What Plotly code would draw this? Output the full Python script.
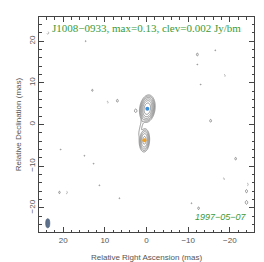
import numpy as np
import plotly.graph_objects as go

# ---- data ----
source_name = "J1008−0933"
max_flux = 0.13
clev = 0.002
obs_date = "1997−05−07"

# model components (mas, Jy/bm)
comp_x = [-0.2, 0.5, 1.2, 2.6]
comp_y = [3.8, -3.8, 0.0, 3.3]
comp_flux = [0.13, 0.045, 0.0029, 0.0030]
comp_sx = [0.64, 0.50, 0.26, 0.32]
comp_sy = [1.15, 1.12, 2.3, 0.45]
comp_rot = [-8.0, -3.0, -15.0, 0.0]  # degrees

# faint noise peaks (positive & negative)
noise_x = [23.7, 14.6, -12.2, -16.5, -12.2, -18.7, -13.0, 13.0, 9.4, 7.0, -15.4,
           20.6, 14.9, 12.7, -21.4, -18.5, 11.3, -24.2, 20.9, 19.2, 6.5, -10.8,
           -12.5, -24.0, -24.0]
noise_y = [22.0, 20.0, 16.8, 17.8, 14.4, 11.7, 9.6, 8.2, 5.3, 5.7, 0.9,
           -6.0, -7.5, -9.4, -8.2, -13.1, -14.6, -14.4, -16.3, -16.3, -17.7, -18.9,
           -20.1, -16.0, -18.7]
noise_amp = [-0.0026, 0.0021, 0.0026, 0.0021, 0.0021, -0.0024, 0.0021, 0.0023, -0.0024, 0.0026, 0.0026,
             0.0021, 0.0021, 0.0021, 0.0025, -0.0024, 0.0021, -0.0025, 0.0024, -0.0025, 0.0021, 0.0021,
             0.0025, 0.0028, 0.0032]

# restoring beam (mas)
beam_x, beam_y = 23.7, -23.7
beam_minor, beam_major = 1.0, 2.2

# ---- image ----
gx = np.arange(-26.0, 26.01, 0.1)
gy = np.arange(-26.0, 26.01, 0.1)
X, Y = np.meshgrid(gx, gy)
img = np.zeros_like(X)
for x0, y0, f, sx, sy, rot in zip(comp_x, comp_y, comp_flux, comp_sx, comp_sy, comp_rot):
    t = np.deg2rad(rot)
    dx, dy = X - x0, Y - y0
    u = dx * np.cos(t) - dy * np.sin(t)
    v = dx * np.sin(t) + dy * np.cos(t)
    img += f * np.exp(-0.5 * ((u / sx) ** 2 + (v / sy) ** 2))
for x0, y0, a in zip(noise_x, noise_y, noise_amp):
    img += a * np.exp(-0.5 * (((X - x0) / 0.3) ** 2 + ((Y - y0) / 0.45) ** 2))

pos = np.log2(np.clip(img, 1e-9, None) / clev)
neg = np.log2(np.clip(-img, 1e-9, None) / clev)

fig = go.Figure()
fig.add_trace(go.Contour(
    x=gx, y=gy, z=pos, showscale=False,
    contours=dict(start=0, end=6, size=1, coloring="none"),
    line=dict(color="#7a7a7a", width=0.8, smoothing=0.6),
    hoverinfo="skip",
))
fig.add_trace(go.Contour(
    x=gx, y=gy, z=neg, showscale=False,
    contours=dict(start=0, end=0, size=1, coloring="none"),
    line=dict(color="#999999", width=0.8, dash="dot", smoothing=0.6),
    hoverinfo="skip",
))
fig.add_trace(go.Scatter(
    x=[comp_x[0]], y=[comp_y[0]], mode="markers",
    marker=dict(color="#3d8fd8", size=4), hoverinfo="skip",
))
fig.add_trace(go.Scatter(
    x=[comp_x[1]], y=[comp_y[1]], mode="markers",
    marker=dict(color="#f0a020", size=4), hoverinfo="skip",
))

fig.add_shape(type="circle", xref="x", yref="y",
              x0=beam_x - beam_minor / 2, x1=beam_x + beam_minor / 2,
              y0=beam_y - beam_major / 2, y1=beam_y + beam_major / 2,
              fillcolor="#5d708c", line=dict(color="#44566f", width=0.6))

fig.add_annotation(x=0.5, y=0.95, xref="paper", yref="paper",
                   text=f"{source_name}, max={max_flux}, clev={clev} Jy/bm",
                   showarrow=False, xanchor="center", yanchor="middle",
                   font=dict(family="Liberation Serif", size=11, color="#3a9a3a"))
fig.add_annotation(x=0.975, y=0.035, xref="paper", yref="paper",
                   text=f"<i>{obs_date}</i>", showarrow=False,
                   xanchor="right", yanchor="bottom",
                   font=dict(family="Liberation Sans", size=9, color="#3a9a3a"))

axis_common = dict(
    showgrid=False, zeroline=False, showline=True, linecolor="#444", linewidth=1,
    mirror="allticks", ticks="inside", ticklen=5, tickcolor="#444", tickwidth=0.8,
    tickfont=dict(family="Liberation Sans", size=8, color="#555"),
    minor=dict(dtick=2, ticks="inside", ticklen=2.5, tickcolor="#444", tickwidth=0.8),
    dtick=10,
)
fig.update_xaxes(range=[25.8, -25.8], title=dict(text="Relative Right Ascension (mas)",
                 font=dict(family="Liberation Sans", size=8, color="#555"), standoff=10),
                 **axis_common)
fig.update_yaxes(range=[-25.8, 25.8], tickangle=-90,
                 title=dict(text="Relative Declination (mas)",
                            font=dict(family="Liberation Sans", size=8, color="#555"), standoff=4),
                 **axis_common)

fig.update_layout(width=264, height=262, showlegend=False,
                  margin=dict(l=31, r=18, t=9, b=38),
                  paper_bgcolor="white", plot_bgcolor="white")
fig.write_html("out.html")
